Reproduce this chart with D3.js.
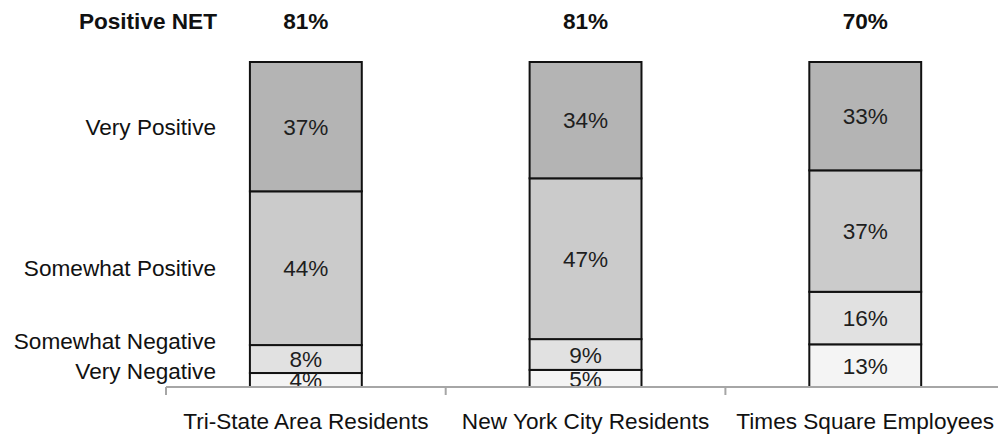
<!DOCTYPE html>
<html>
<head>
<meta charset="utf-8">
<script src="https://cdn.jsdelivr.net/npm/d3@7"></script>
<style>
  html, body { margin: 0; padding: 0; background: #fff; }
  svg { display: block; font-family: "Liberation Sans", Arial, sans-serif; }
</style>
</head>
<body>
<svg id="chart" width="998" height="437"></svg>
<script>
const categories = ["Tri-State Area Residents", "New York City Residents", "Times Square Employees"];
const seriesNames = ["Very Negative", "Somewhat Negative", "Somewhat Positive", "Very Positive"];
const veryNegative = [4, 5, 13];
const somewhatNegative = [8, 9, 16];
const somewhatPositive = [44, 47, 37];
const veryPositive = [37, 34, 33];
const positiveNet = ["81%", "81%", "70%"];
const netLabel = "Positive NET";
const colors = ["#f4f4f4", "#e1e1e1", "#cbcbcb", "#b4b4b4"];

const FS = 22.6;
const svg = d3.select("#chart");
const left = 166, axisY = 387, topY = 62;
const step = 279.7;
const x = d3.scaleBand().domain(categories)
  .range([left, left + step * categories.length])
  .paddingInner(0.6).paddingOuter(0.3);
const y = d3.scaleLinear().domain([0, 1]).range([axisY, topY]);

const rows = categories.map((c, i) => ({
  cat: c,
  "Very Negative": veryNegative[i],
  "Somewhat Negative": somewhatNegative[i],
  "Somewhat Positive": somewhatPositive[i],
  "Very Positive": veryPositive[i]
}));
const stack = d3.stack().keys(seriesNames).offset(d3.stackOffsetExpand);
const stacked = stack(rows);

const g = svg.append("g");
stacked.forEach((layer, si) => {
  g.selectAll(null).data(layer).enter().append("rect")
    .attr("x", d => x(d.data.cat))
    .attr("width", x.bandwidth())
    .attr("y", d => y(d[1]))
    .attr("height", d => y(d[0]) - y(d[1]))
    .attr("fill", colors[si])
    .attr("stroke", "#111")
    .attr("stroke-width", 2);
});
stacked.forEach((layer, si) => {
  g.selectAll(null).data(layer).enter().append("text")
    .attr("x", d => x(d.data.cat) + x.bandwidth() / 2)
    .attr("y", d => (y(d[0]) + y(d[1])) / 2)
    .attr("dy", "0.36em")
    .attr("text-anchor", "middle")
    .attr("font-size", FS)
    .attr("fill", "#1e1e1e")
    .text(d => d.data[layer.key] + "%");
});

// Left labels tied to first bar segments, spread to avoid overlap
const first = stacked.map(l => (y(l[0][0]) + y(l[0][1])) / 2);
const labelY = [];
let limit = axisY - 16.5;
for (let i = 0; i < first.length; i++) {
  const v = Math.min(first[i], limit);
  labelY.push(v);
  limit = v - 30;
}
seriesNames.forEach((name, i) => {
  svg.append("text")
    .attr("x", 216).attr("y", labelY[i])
    .attr("dy", "0.36em")
    .attr("text-anchor", "end")
    .attr("font-size", FS)
    .attr("fill", "#111")
    .text(name);
});

// Positive NET row
svg.append("text").attr("x", 217).attr("y", 20.5).attr("dy", "0.36em")
  .attr("text-anchor", "end").attr("font-size", FS).attr("font-weight", "bold")
  .attr("fill", "#111").text(netLabel);
svg.selectAll(null).data(categories).enter().append("text")
  .attr("x", d => x(d) + x.bandwidth() / 2).attr("y", 20.5).attr("dy", "0.36em")
  .attr("text-anchor", "middle").attr("font-size", FS).attr("font-weight", "bold")
  .attr("fill", "#111").text((d, i) => positiveNet[i]);

// Axis
const ax = svg.append("g");
ax.append("line").attr("x1", left).attr("x2", left + step * categories.length)
  .attr("y1", axisY).attr("y2", axisY).attr("stroke", "#a6a6a6").attr("stroke-width", 2);
d3.range(categories.length + 1).forEach(i => {
  const tx = left + step * i;
  ax.append("line").attr("x1", tx).attr("x2", tx).attr("y1", axisY).attr("y2", axisY + 8)
    .attr("stroke", "#a6a6a6").attr("stroke-width", 2);
});
ax.selectAll(null).data(categories).enter().append("text")
  .attr("x", d => x(d) + x.bandwidth() / 2).attr("y", 420.5).attr("dy", "0.36em")
  .attr("text-anchor", "middle").attr("font-size", FS).attr("fill", "#111")
  .text(d => d);
</script>
</body>
</html>
